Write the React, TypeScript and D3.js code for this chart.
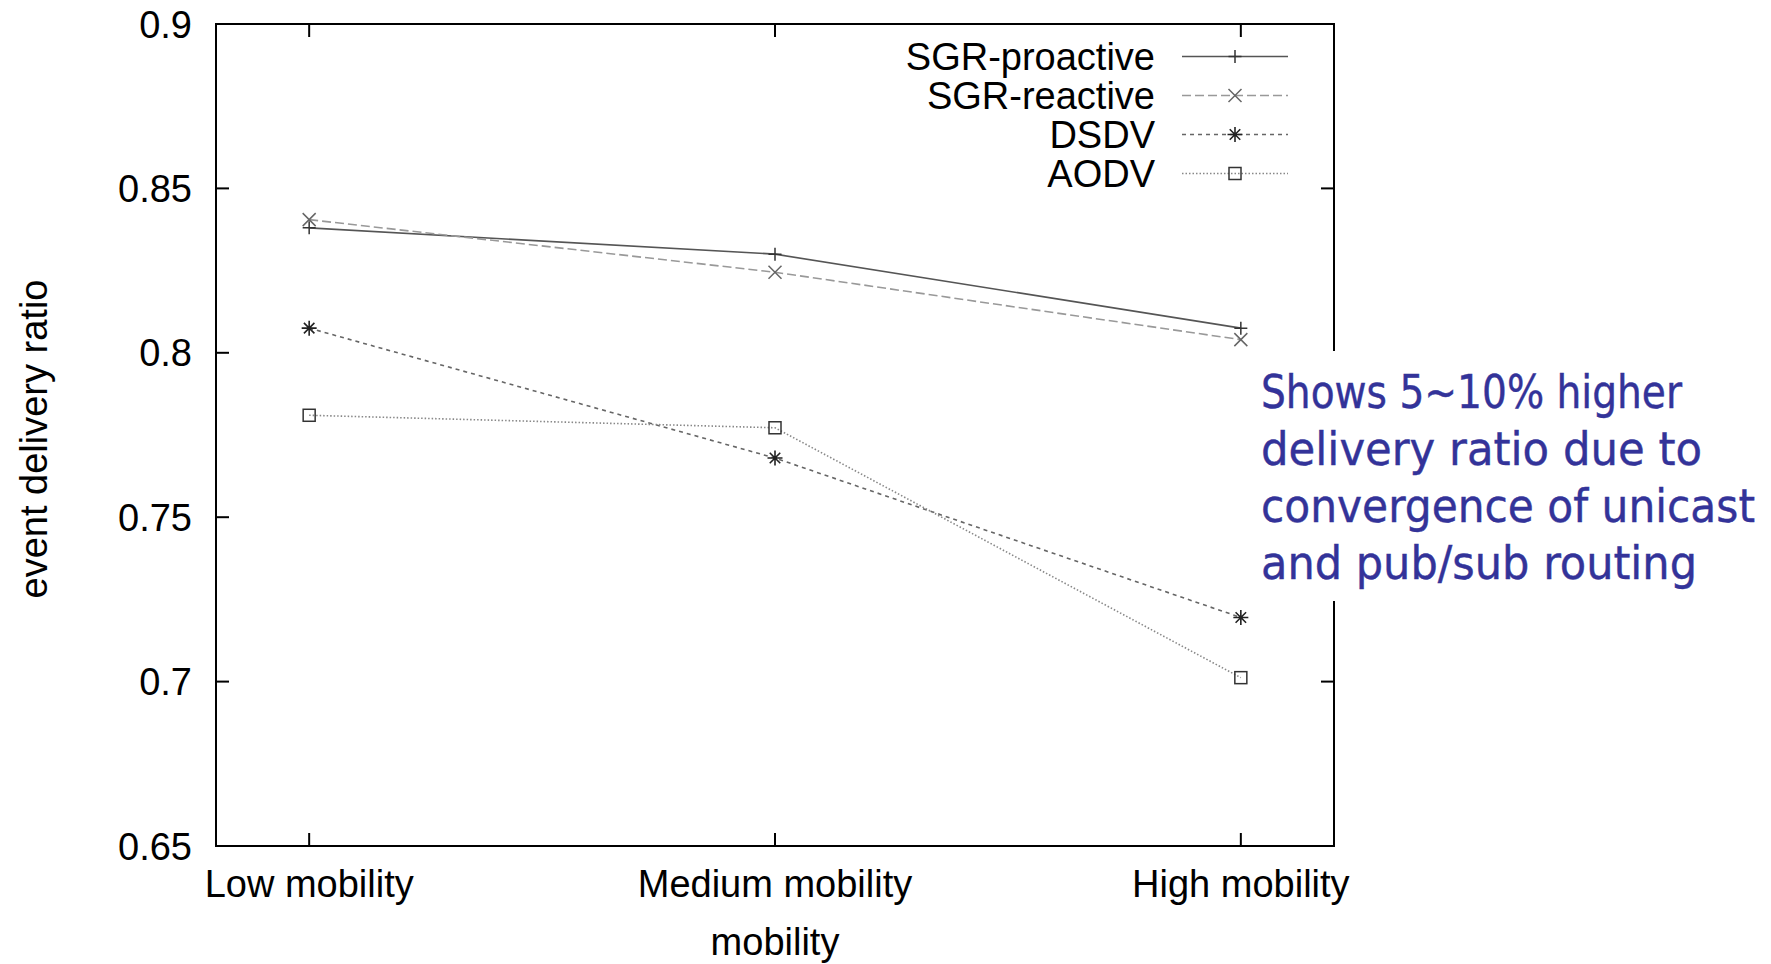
import * as d3 from "d3";

// categories on the x axis
const categories = ["Low mobility", "Medium mobility", "High mobility"];
const yTicks = [0.65, 0.7, 0.75, 0.8, 0.85, 0.9];

// series values
const sgrProactive = [0.838, 0.83, 0.8075];
const sgrReactive = [0.8405, 0.8245, 0.804];
const dsdv = [0.8075, 0.768, 0.7195];
const aodv = [0.781, 0.7772, 0.7012];

const seriesNames = ["SGR-proactive", "SGR-reactive", "DSDV", "AODV"];

const noteLines = [
  "Shows 5~10% higher",
  "delivery ratio due to",
  "convergence of unicast",
  "and pub/sub routing",
];

const W = 1771;
const H = 964;
const margin = { left: 216, right: 437, top: 24, bottom: 118 };

const styles = [
  { values: sgrProactive, mark: "plus", line: "#555", markColor: "#333", dash: "none" },
  { values: sgrReactive, mark: "cross", line: "#999", markColor: "#666", dash: "9 4" },
  { values: dsdv, mark: "star", line: "#666", markColor: "#222", dash: "4 4" },
  { values: aodv, mark: "square", line: "#888", markColor: "#333", dash: "1.5 2" },
];

const Marker = ({ type, x, y, color }) => {
  const r = 6.5;
  if (type === "plus")
    return <path d={`M${x - r},${y}H${x + r}M${x},${y - r}V${y + r}`} stroke={color} strokeWidth={1.5} fill="none" />;
  if (type === "cross")
    return <path d={`M${x - r},${y - r}L${x + r},${y + r}M${x - r},${y + r}L${x + r},${y - r}`} stroke={color} strokeWidth={1.5} fill="none" />;
  if (type === "star") {
    const s = 7.5;
    return (
      <path
        d={`M${x - s},${y}H${x + s}M${x},${y - s}V${y + s}M${x - s * 0.7},${y - s * 0.7}L${x + s * 0.7},${y + s * 0.7}M${x - s * 0.7},${y + s * 0.7}L${x + s * 0.7},${y - s * 0.7}`}
        stroke={color}
        strokeWidth={1.6}
        fill="none"
      />
    );
  }
  return <rect x={x - 6} y={y - 6} width={12} height={12} stroke={color} strokeWidth={1.5} fill="none" />;
};

export default function App() {
  const innerW = W - margin.left - margin.right;
  const innerH = H - margin.top - margin.bottom;
  const x0 = margin.left;
  const y0 = margin.top;

  const x = d3.scalePoint().domain(categories).range([x0, x0 + innerW]).padding(0.2);
  const y = d3.scaleLinear().domain([0.65, 0.9]).range([y0 + innerH, y0]);

  const line = d3
    .line<number>()
    .x((_, i) => x(categories[i]))
    .y((d) => y(d));

  const font = "'Liberation Sans', Arial, sans-serif";
  const tick = 13;

  return (
    <div style={{ position: "fixed", left: 0, top: 0 }}>
      <svg width={W} height={H} style={{ display: "block", background: "#fff" }}>
        {/* series lines */}
        {styles.map((s, i) => (
          <path key={i} d={line(s.values)} fill="none" stroke={s.line} strokeWidth={1.6} strokeDasharray={s.dash} />
        ))}
        {styles.map((s, i) =>
          s.values.map((v, j) => <Marker key={`${i}-${j}`} type={s.mark} x={x(categories[j])} y={y(v)} color={s.markColor} />)
        )}

        {/* frame and ticks */}
        <rect x={x0} y={y0} width={innerW} height={innerH} fill="none" stroke="#000" strokeWidth={2} />
        {yTicks.map((t) => (
          <g key={t}>
            <line x1={x0} x2={x0 + tick} y1={y(t)} y2={y(t)} stroke="#000" strokeWidth={2} />
            <line x1={x0 + innerW} x2={x0 + innerW - tick} y1={y(t)} y2={y(t)} stroke="#000" strokeWidth={2} />
            <text x={x0 - 24} y={y(t)} dy="0.36em" textAnchor="end" fontFamily={font} fontSize={38} fill="#000">
              {String(t)}
            </text>
          </g>
        ))}
        {categories.map((c) => (
          <g key={c}>
            <line x1={x(c)} x2={x(c)} y1={y0 + innerH} y2={y0 + innerH - tick} stroke="#000" strokeWidth={2} />
            <line x1={x(c)} x2={x(c)} y1={y0} y2={y0 + tick} stroke="#000" strokeWidth={2} />
            <text x={x(c)} y={897} textAnchor="middle" fontFamily={font} fontSize={38} fill="#000">
              {c}
            </text>
          </g>
        ))}

        {/* axis titles */}
        <text x={x0 + innerW / 2} y={955} textAnchor="middle" fontFamily={font} fontSize={38} fill="#000">
          mobility
        </text>
        <text transform="translate(47,439) rotate(-90)" textAnchor="middle" fontFamily={font} fontSize={38} fill="#000">
          event delivery ratio
        </text>

        {/* legend */}
        {styles.map((s, i) => {
          const ly = 56.5 + i * 39;
          return (
            <g key={i}>
              <text x={1155} y={ly} dy="0.36em" textAnchor="end" fontFamily={font} fontSize={38} fill="#000">
                {seriesNames[i]}
              </text>
              <line x1={1182} x2={1288} y1={ly} y2={ly} stroke={s.line} strokeWidth={1.6} strokeDasharray={s.dash} />
              <Marker type={s.mark} x={1235} y={ly} color={s.markColor} />
            </g>
          );
        })}

        {/* annotation box */}
        <rect x={1250} y={351} width={W - 1250} height={250} fill="#fff" />
        {noteLines.map((t, i) => (
          <text
            key={i}
            x={1261}
            y={408 + i * 57}
            fontFamily="'DejaVu Sans Condensed', 'DejaVu Sans', sans-serif"
            fontSize={46}
            fill="#333399"
            stroke="#333399"
            strokeWidth={0.4}
            textLength={[421, 441, 494, 436][i]}
            lengthAdjust="spacingAndGlyphs"
          >
            {t}
          </text>
        ))}
      </svg>
    </div>
  );
}
